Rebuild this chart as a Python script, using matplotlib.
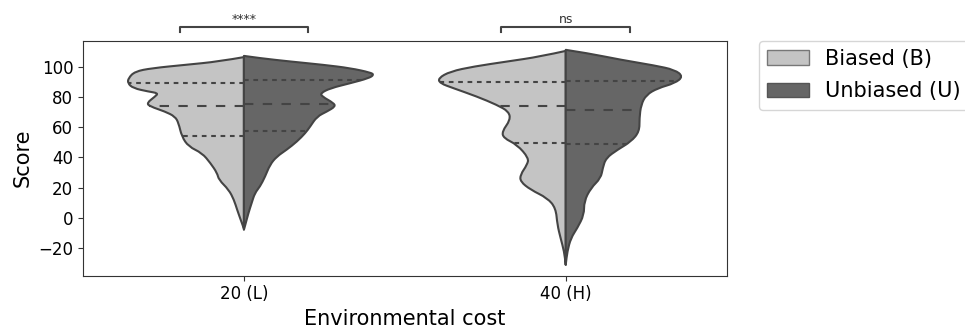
from matplotlib import pyplot as plt
from matplotlib.patches import Patch, PathPatch
from matplotlib.path import Path
import numpy as np

categories = ['20 (L)', '40 (H)']
hue_labels = ['Biased (B)', 'Unbiased (U)']
pvalue_labels = ['****', 'ns']

# violin outlines: score and half width (category units)
low_b_score = [106.2, 103.3, 101.1, 98.9, 96.7, 92.3, 89.0, 85.7, 83.5, 82.4, 80.2, 75.9, 73.7,
               70.3, 67.0, 62.7, 53.8, 47.2, 42.9, 36.3, 29.7, 25.3, 18.7, 12.1, 5.5, -1.1, -7.0]
low_b_width = [0.0, 0.078, 0.182, 0.286, 0.339, 0.359, 0.361, 0.344, 0.297, 0.266, 0.276, 0.302, 0.292,
               0.245, 0.214, 0.203, 0.193, 0.172, 0.130, 0.104, 0.083, 0.078, 0.047, 0.031, 0.021, 0.010, 0.0]

low_u_score = [107.0, 105.5, 103.3, 101.1, 98.9, 96.0, 94.5, 92.3, 89.0, 85.7, 82.4, 80.2, 75.9, 73.6,
               70.3, 67.0, 60.4, 56.1, 50.5, 45.1, 40.6, 35.2, 27.4, 20.8, 16.5, 9.9, 3.3, -5.5, -7.7]
low_u_width = [0.0, 0.05, 0.144, 0.248, 0.331, 0.394, 0.404, 0.388, 0.331, 0.269, 0.238, 0.243, 0.279, 0.284,
               0.258, 0.227, 0.206, 0.191, 0.165, 0.133, 0.102, 0.081, 0.066, 0.050, 0.034, 0.024, 0.014, 0.003, 0.0]

high_b_score = [110.3, 106.6, 103.3, 100.0, 96.7, 92.3, 89.0, 85.7, 80.2, 74.7, 70.3, 64.8, 57.1,
                52.8, 48.4, 39.6, 35.2, 28.6, 24.1, 18.7, 13.2, 6.6, -4.4, -13.2, -22.0, -30.8]
high_b_width = [0.0, 0.078, 0.182, 0.286, 0.359, 0.396, 0.391, 0.349, 0.276, 0.214, 0.177, 0.172, 0.198,
                0.193, 0.151, 0.115, 0.120, 0.141, 0.141, 0.109, 0.057, 0.031, 0.026, 0.016, 0.005, 0.0]

high_u_score = [111.0, 108.8, 104.4, 100.7, 97.8, 93.4, 89.0, 85.7, 81.3, 74.7, 65.9, 57.1,
                50.5, 45.1, 39.6, 33.0, 26.4, 19.8, 11.0, 2.2, -6.6, -13.2, -22.0, -30.8]
high_u_width = [0.0, 0.068, 0.172, 0.276, 0.339, 0.365, 0.339, 0.286, 0.250, 0.234, 0.229, 0.229,
                0.203, 0.161, 0.125, 0.115, 0.109, 0.078, 0.057, 0.057, 0.036, 0.016, 0.005, 0.0]

# q1, median, q3
low_b_quart = [54.3, 74.0, 88.8]
low_u_quart = [57.2, 75.5, 91.2]
high_b_quart = [49.5, 74.2, 89.7]
high_u_quart = [48.8, 71.4, 90.6]

light = '#c4c4c4'
dark = '#666666'
edge = '#444444'


def half_violin(ax, pos, score, width, quart, side, color, lw=1.5):
    score = np.array(score)
    width = np.array(width)
    pts = np.column_stack([pos + side * width, score])

    # smooth outline: quadratic curves through the midpoints of the read points
    verts = [pts[0]]
    codes = [Path.MOVETO]
    for i in range(1, len(pts) - 1):
        verts += [pts[i], (pts[i] + pts[i + 1]) / 2]
        codes += [Path.CURVE3, Path.CURVE3]
    verts += [pts[-1], pts[0], pts[0]]
    codes += [Path.LINETO, Path.LINETO, Path.CLOSEPOLY]
    ax.add_patch(PathPatch(Path(verts, codes), facecolor=color, edgecolor=edge, lw=lw,
                           joinstyle='round', zorder=1))

    # quartile lines, run out to the outline
    order = np.argsort(score)
    for q, dash in zip(quart, [(2.25, 2.25), (4.5, 4.5), (2.25, 2.25)]):
        w = np.interp(q, score[order], width[order])
        ax.plot([pos, pos + side * w], [q, q], color=edge, lw=lw, ls=(0, dash), zorder=3)


def bracket(ax, pos, label, y=123, h=3, half=0.2):
    ax.plot([pos - half, pos - half, pos + half, pos + half], [y, y + h, y + h, y],
            color=edge, lw=1.5, clip_on=False)
    ax.text(pos, y + h + 0.8, label, ha='center', va='bottom', fontsize=9, color='#333333')


fig = plt.figure(figsize=(9.65, 3.3), dpi=100)
ax = fig.add_axes([0.086, 0.165, 0.667, 0.712])

half_violin(ax, 0, low_b_score, low_b_width, low_b_quart, -1, light)
half_violin(ax, 0, low_u_score, low_u_width, low_u_quart, 1, dark)
half_violin(ax, 1, high_b_score, high_b_width, high_b_quart, -1, light)
half_violin(ax, 1, high_u_score, high_u_width, high_u_quart, 1, dark)

for i, lab in enumerate(pvalue_labels):
    bracket(ax, i, lab)

ax.set_xlim(-0.5, 1.5)
ax.set_ylim(-37.9, 117.1)
ax.set_xticks(range(len(categories)))
ax.set_xticklabels(categories)
ax.set_yticks(np.arange(-20, 101, 20))
ax.tick_params(labelsize=12, color='#333333')
for s in ax.spines.values():
    s.set_color('#333333')

ax.set_xlabel('Environmental cost', fontsize=15)
ax.set_ylabel('Score', fontsize=15)

handles = [Patch(facecolor=light, edgecolor='#777777', label=hue_labels[0]),
           Patch(facecolor=dark, edgecolor='#555555', label=hue_labels[1])]
ax.legend(handles=handles, loc='upper left', bbox_to_anchor=(1.05, 1), borderaxespad=0,
          fontsize=15, labelspacing=0.6)

plt.savefig('out.png')
